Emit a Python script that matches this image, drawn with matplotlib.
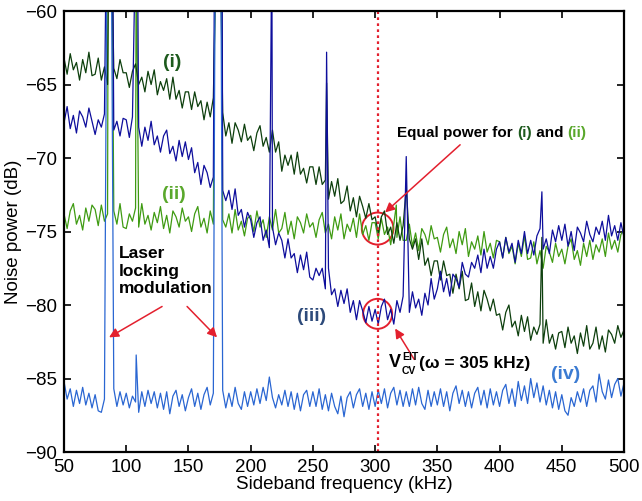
import numpy as np
import matplotlib
matplotlib.use("Agg")
import matplotlib.pyplot as plt
from matplotlib.patches import Ellipse

plt.rcParams['font.family'] = ['Liberation Sans', 'DejaVu Sans']

# sideband frequency grid (kHz), one reading every 2.5 kHz
freq = np.arange(50, 500.1, 2.5)

# (i) dark green trace, dB
trace_i = [
    -63.2, -64.3, -62.9, -64.0, -63.5, -64.7, -63.3, -64.2, -62.8, -64.4,
    -64.3, -63.2, -64.7, -63.8, -65.0, -63.5, -63.9, -64.6, -63.3, -64.2,
    -64.2, -65.2, -64.1, -63.6, -65.0, -64.5, -65.5, -64.1, -65.0, -64.0,
    -65.7, -64.8, -65.4, -64.6, -66.0, -64.5, -66.0, -65.4, -66.6, -65.5,
    -65.5, -66.7, -65.5, -66.5, -66.1, -67.4, -66.2, -67.2, -65.9, -67.9,
    -67.9, -66.9, -68.5, -67.6, -69.0, -67.6, -68.1, -68.9, -67.7, -68.8,
    -68.5, -69.5, -68.3, -67.8, -69.2, -68.6, -69.6, -68.1, -69.6, -68.9,
    -70.9, -69.8, -70.5, -69.8, -71.1, -69.6, -71.1, -70.7, -71.7, -70.6,
    -70.6, -71.8, -70.6, -71.8, -71.5, -72.8, -71.6, -72.6, -71.4, -73.1,
    -72.9, -71.9, -73.6, -72.7, -74.0, -72.6, -73.3, -74.1, -73.1, -74.2,
    -74.0, -75.1, -74.0, -73.6, -75.2, -74.7, -75.8, -74.4, -75.6, -74.6,
    -76.3, -75.5, -76.2, -75.5, -76.9, -75.5, -77.3, -76.8, -78.0, -77.0,
    -77.0, -78.3, -77.0, -78.0, -77.9, -79.2, -77.9, -78.9, -77.7, -79.7,
    -79.6, -78.5, -80.1, -79.1, -80.4, -79.0, -79.6, -80.4, -79.6, -80.7,
    -80.6, -81.7, -80.5, -80.0, -81.5, -81.1, -82.1, -80.7, -81.8, -80.8,
    -82.4, -81.5, -82.0, -81.3, -82.6, -81.0, -82.6, -82.0, -83.0, -81.9,
    -81.8, -82.9, -81.5, -82.6, -82.1, -83.3, -81.9, -82.8, -81.4, -83.0,
    -82.6, -81.5, -83.0, -82.1, -83.2, -81.7, -82.0, -82.6, -81.4, -82.2,
    -81.7,
]

# (ii) light green trace
trace_ii = [
    -73.8, -74.8, -73.6, -73.1, -74.5, -73.9, -74.9, -73.4, -74.3, -73.2,
    -73.5, -74.6, -73.2, -74.3, -73.8, -75.0, -73.6, -74.5, -73.1, -74.7,
    -74.8, -73.8, -74.3, -73.4, -74.7, -73.1, -74.5, -73.9, -74.9, -73.7,
    -74.4, -73.3, -74.8, -73.9, -75.1, -73.6, -74.0, -74.7, -73.4, -74.3,
    -74.0, -75.0, -73.8, -73.3, -74.7, -74.1, -75.1, -73.6, -74.5, -73.4,
    -75.2, -74.2, -74.7, -73.8, -75.1, -73.5, -74.9, -74.3, -75.3, -74.1,
    -73.9, -75.0, -73.6, -74.7, -74.2, -75.4, -74.0, -74.9, -73.5, -75.1,
    -74.8, -73.7, -75.2, -74.3, -75.5, -74.0, -74.4, -75.1, -73.8, -74.7,
    -74.4, -75.4, -74.2, -73.7, -75.1, -74.5, -75.5, -74.0, -74.9, -73.8,
    -75.5, -74.5, -75.0, -74.1, -75.4, -73.8, -75.2, -74.6, -75.6, -74.4,
    -74.4, -75.5, -74.1, -75.2, -74.7, -75.9, -74.5, -75.4, -74.0, -75.6,
    -75.6, -74.5, -76.0, -75.1, -76.3, -74.8, -75.2, -75.9, -74.6, -75.5,
    -75.4, -76.4, -75.2, -74.7, -76.1, -75.5, -76.5, -75.0, -75.9, -74.8,
    -76.7, -75.7, -76.2, -75.3, -76.6, -75.0, -76.4, -75.8, -76.8, -75.6,
    -75.7, -76.8, -75.4, -76.5, -76.0, -77.2, -75.8, -76.7, -75.3, -76.9,
    -76.8, -75.7, -77.2, -76.3, -77.5, -76.0, -76.4, -77.1, -75.8, -76.7,
    -76.2, -77.2, -76.0, -75.5, -76.9, -76.3, -77.3, -75.8, -76.7, -75.6,
    -76.9, -75.9, -76.4, -75.5, -76.7, -75.1, -76.2, -75.6, -76.4, -75.2,
    -74.9,
]

# (iii) dark blue trace
trace_iii = [
    -67.6, -66.5, -68.0, -67.1, -68.3, -66.8, -67.2, -67.9, -66.6, -67.5,
    -68.4, -67.4, -67.9, -67.0, -68.3, -66.7, -68.1, -67.5, -68.5, -67.3,
    -67.4, -68.6, -67.2, -68.3, -67.9, -69.2, -67.9, -68.8, -67.5, -69.1,
    -68.5, -69.6, -68.5, -68.1, -69.7, -69.2, -70.2, -68.8, -69.9, -68.9,
    -70.1, -69.3, -71.0, -70.3, -71.8, -70.5, -71.0, -72.0, -71.3, -72.4,
    -73.0, -72.2, -72.9, -72.2, -73.5, -72.1, -73.9, -73.5, -74.7, -73.7,
    -74.2, -75.4, -74.4, -74.0, -75.6, -74.9, -76.1, -74.7, -75.9, -75.1,
    -75.6, -76.8, -75.5, -76.8, -76.5, -77.8, -76.6, -77.6, -76.4, -78.1,
    -78.3, -77.5, -78.0, -77.5, -78.9, -77.5, -79.3, -78.9, -80.1, -79.0,
    -79.9, -78.9, -80.5, -79.7, -81.0, -79.7, -80.4, -81.2, -80.1, -81.1,
    -80.3, -81.3, -80.1, -79.6, -81.0, -80.3, -81.3, -79.7, -80.5, -79.4,
    -79.5, -80.5, -79.1, -80.2, -79.6, -80.7, -79.2, -80.0, -78.2, -79.6,
    -78.9, -77.7, -79.1, -78.2, -79.4, -77.9, -78.2, -78.8, -77.1, -77.9,
    -78.1, -77.1, -77.5, -76.6, -77.8, -76.2, -77.5, -76.7, -77.5, -76.2,
    -75.7, -76.8, -75.4, -76.4, -75.8, -77.1, -75.6, -76.5, -75.0, -76.5,
    -75.6, -76.6, -75.3, -74.8, -76.2, -75.5, -76.5, -74.9, -75.7, -74.6,
    -75.6, -74.5, -76.0, -75.0, -76.3, -74.7, -75.1, -75.7, -74.3, -75.2,
    -75.7, -74.7, -75.2, -74.3, -75.6, -73.9, -75.3, -74.6, -75.6, -74.4,
    -75.4,
]

# (iv) light blue trace
trace_iv = [
    -85.2, -86.4, -85.7, -86.9, -85.8, -86.7, -85.6, -86.8, -86.0, -87.0,
    -86.1, -87.2, -87.3, -86.4, -86.0, -86.2, -85.7, -86.9, -85.9, -86.8,
    -86.0, -87.0, -86.2, -86.6, -87.3, -85.9, -86.9, -85.8, -86.7, -85.9,
    -87.0, -86.0, -87.1, -85.9, -87.4, -86.2, -85.8, -86.9, -86.1, -87.2,
    -86.3, -85.7, -86.9, -86.0, -87.1, -86.1, -85.6, -86.8, -86.0, -86.0,
    -86.1, -85.8, -87.0, -86.0, -86.9, -85.6, -86.7, -87.1, -85.9, -86.9,
    -85.9, -86.8, -85.7, -86.7, -85.6, -86.5, -84.9, -86.3, -87.0, -86.1,
    -86.8, -85.8, -86.9, -85.9, -87.1, -86.0, -87.2, -86.1, -85.8, -86.9,
    -85.9, -86.9, -85.7, -87.1, -86.1, -87.2, -86.0, -86.9, -87.4, -86.2,
    -87.6, -86.3, -85.9, -87.0, -86.1, -85.7, -86.9, -86.0, -87.1, -85.9,
    -86.9, -85.8, -86.7, -85.7, -87.0, -86.0, -85.6, -86.8, -85.8, -86.9,
    -85.9, -86.9, -85.7, -86.8, -85.6, -86.7, -87.1, -85.8, -86.9, -85.9,
    -86.8, -85.7, -86.9, -85.9, -87.2, -86.0, -85.5, -86.7, -85.8, -86.9,
    -85.9, -87.0, -86.0, -85.6, -86.8, -85.8, -87.0, -85.7, -86.8, -85.9,
    -86.9, -85.8, -85.4, -86.7, -85.7, -86.9, -85.2, -86.5, -85.5, -86.7,
    -85.0, -86.3, -85.3, -86.6, -85.5, -86.8, -85.8, -87.0, -85.9, -87.1,
    -86.1, -87.2, -87.5, -86.3, -86.9, -85.9, -86.6, -85.7, -86.9, -85.8,
    -85.5, -86.6, -84.7, -85.9, -86.4, -85.1, -86.3, -85.4, -85.0, -86.2,
    -85.3,
]

# narrow peaks: (start kHz, stop kHz, top dB); tops above -60 run off the axes
spikes_i = [(86.0, 88.0, -55), (172.5, 175.5, -55), (261, 261, -64.9),
            (325, 325, -72.0), (434, 434, -75.4)]
spikes_ii = [(85.5, 88.5, -55), (108, 108, -55), (171.5, 176.5, -55),
             (317, 317, -73.2)]
spikes_iii = [(84.0, 89.0, -55), (107.5, 109.0, -55), (171.0, 177.0, -55),
              (217, 217, -55), (261, 261, -62.8), (325, 325, -69.9),
              (434, 434, -72.3)]
spikes_iv = [(84.5, 88.0, -55), (108, 108, -83.4), (171.5, 176.0, -55)]

c_i = '#0d3f0d'
c_ii = '#3f9b12'
c_iii = '#0e0e9c'
c_iv = '#2a66d2'


def with_spikes(f, v, spikes):
    pts = [(a, b) for a, b in zip(f, v)
           if not any(s <= a <= e for s, e, _ in spikes)]
    for s, e, top in spikes:
        pts.append((s, top))
        if e != s:
            pts.append((e, top))
    pts.sort()
    return np.array(pts).T


fig = plt.figure(figsize=(6.42, 5.01), dpi=100)
ax = fig.add_axes([0.0997, 0.0978, 0.8723, 0.8802])

for vals, sp, col in [(trace_ii, spikes_ii, c_ii), (trace_i, spikes_i, c_i),
                      (trace_iii, spikes_iii, c_iii), (trace_iv, spikes_iv, c_iv)]:
    x, y = with_spikes(freq, vals, sp)
    ax.plot(x, y, color=col, lw=0.9)

ax.set_xlim(50, 500)
ax.set_ylim(-90, -60)
ax.set_xticks(np.arange(50, 501, 50))
ax.set_yticks(np.arange(-90, -59, 5))
ax.tick_params(direction='in', top=True, right=True, length=5, width=1.2,
               labelsize=13.5, pad=5)
for s in ax.spines.values():
    s.set_linewidth(1.6)
ax.set_xlabel('Sideband frequency (kHz)', fontsize=13.5, labelpad=0)
ax.set_ylabel('Noise power (dB)', fontsize=13.5, labelpad=2)

# EIT frequency marker and highlights
red = '#e3202e'
ax.axvline(302, color=red, ls=(0, (1.2, 1.5)), lw=1.6)
ax.add_patch(Ellipse((302, -74.8), 25.4, 2.18, fill=False, ec=red, lw=1.4))
ax.add_patch(Ellipse((302, -80.6), 23.3, 2.04, fill=False, ec=red, lw=1.4))

arrow = dict(arrowstyle='-|>', color=red, lw=1.1, mutation_scale=14,
             shrinkA=0, shrinkB=0)
ax.annotate('', xy=(308, -73.7), xytext=(368.3, -69.1), arrowprops=arrow)
ax.annotate('', xy=(86.2, -82.2), xytext=(128.8, -80.1), arrowprops=arrow)
ax.annotate('', xy=(173, -82.2), xytext=(148.9, -80.1), arrowprops=arrow)
ax.annotate('', xy=(316.1, -81.6), xytext=(331.4, -83.7), arrowprops=arrow)

# trace labels
bold = dict(fontweight='bold', ha='center', va='center', fontsize=14)
ax.text(136.8, -63.5, '(i)', color='#1d5a1d', **bold)
ax.text(138.4, -72.5, '(ii)', color='#5aa82c', **bold)
ax.text(248.6, -80.8, '(iii)', color='#2d4a7a', **bold)
ax.text(452.7, -84.7, '(iv)', color='#3b7bd2', **bold)

ax.text(94.2, -76.0, 'Laser\nlocking\nmodulation', fontweight='bold',
        fontsize=12.5, va='top', ha='left', linespacing=1.2)

t = ax.text(317.7, -68.3, 'Equal power for ', fontweight='bold', fontsize=11,
            va='center', ha='left')
for piece, col in [('(i)', '#1d5a1d'), (' and ', 'black'), ('(ii)', '#5aa82c')]:
    t = ax.annotate(piece, xy=(1, 0), xycoords=t, va='bottom', ha='left',
                    fontweight='bold', fontsize=11, color=col)

# V_CV^EIT label built from pieces
v = ax.text(311.3, -84.2, 'V', fontweight='bold', fontsize=13,
            va='baseline', ha='left')
sup = ax.annotate('EIT', xy=(1.05, 0.5), xycoords=v, va='bottom', ha='left',
                  fontweight='bold', fontsize=7.5)
ax.annotate('CV', xy=(1.05, -0.28), xycoords=v, va='bottom', ha='left',
            fontweight='bold', fontsize=7.5)
ax.annotate('(ω = 305 kHz)', xy=(1.08, 0.0), xycoords=(sup, v), va='bottom',
            ha='left', fontweight='bold', fontsize=12.5)

fig.savefig('out.png', dpi=100)
